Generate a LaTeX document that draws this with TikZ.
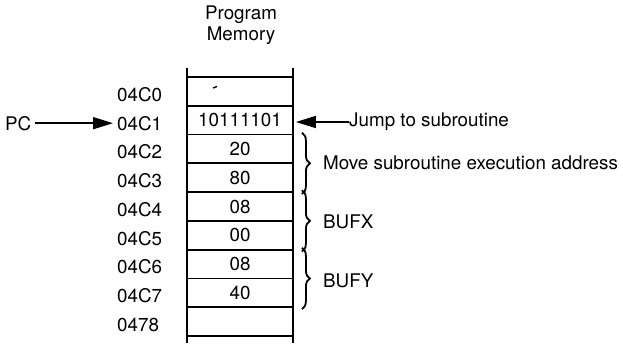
\documentclass[tikz,border=0pt]{standalone}
\usepackage{fontspec}
\setmainfont{TeX Gyre Heros}
\usetikzlibrary{arrows.meta,decorations.pathreplacing}
\begin{document}
\begin{tikzpicture}[x=1pt,y=-1pt,
  every node/.style={font=\fontsize{18.8}{22}\selectfont},
  addr/.style={anchor=west,inner sep=0pt},
  cell/.style={draw,line width=1.8pt,minimum width=106pt,minimum height=28.78pt,inner sep=0pt},
  side/.style={line width=2pt},
  lbl/.style={anchor=west,inner sep=0pt},
  arr/.style={line width=1.6pt,-{Triangle[length=20pt,width=12pt]}},
  brc/.style={decorate,decoration={brace,amplitude=8pt,aspect=0.5},line width=1.8pt}]
\useasboundingbox (0,0) rectangle (623,351);
% header
\node (h1) at (241,15) {Program};
\node (h2) at (241,36) {Memory};
% cells
\foreach \i/\v in {0/{},1/10111101,2/20,3/80,4/08,5/00,6/08,7/40,8/{}}{
  \node[cell] (c\i) at (240,{77+28.78*(\i+0.5)}) {\v};
}
\draw[side] (187,68) -- (187,343);
\draw[side] (293,68) -- (293,343);
\draw[line width=1.4pt] (213,88) -- (217,86.5);
% addresses
\foreach \i/\a in {0/04C0,1/04C1,2/04C2,3/04C3,4/04C4,5/04C5,6/04C6,7/04C7,8/0478}{
  \node[addr] (a\i) at (117,{77+28.78*(\i+0.5)+3}) {\a};
}
% PC arrow
\node[lbl] (pc) at (5,{77+28.78*1.5+3}) {PC};
\draw[arr,shorten <=3pt,shorten >=4pt] (pc.east) -- (a1.west);
% jump arrow
\node[lbl] (jmp) at (349,122) {Jump to subroutine};
\draw[arr] (jmp.west) -- ([xshift=2pt]c1.east |- jmp.west);
% braces
\draw[brc] ([xshift=8pt,yshift=1pt]c2.north east) -- ([xshift=8pt,yshift=-1pt]c3.south east);
\draw[brc] ([xshift=8pt,yshift=1pt]c4.north east) -- ([xshift=8pt,yshift=-1pt]c5.south east);
\draw[brc] ([xshift=8pt,yshift=1pt]c6.north east) -- ([xshift=8pt,yshift=-1pt]c7.south east);
\node[lbl] (b1) at (323,163) {Move subroutine execution address};
\node[lbl] (b2) at (323,222) {BUFX};
\node[lbl] (b3) at (323,281) {BUFY};
\end{tikzpicture}
\end{document}
